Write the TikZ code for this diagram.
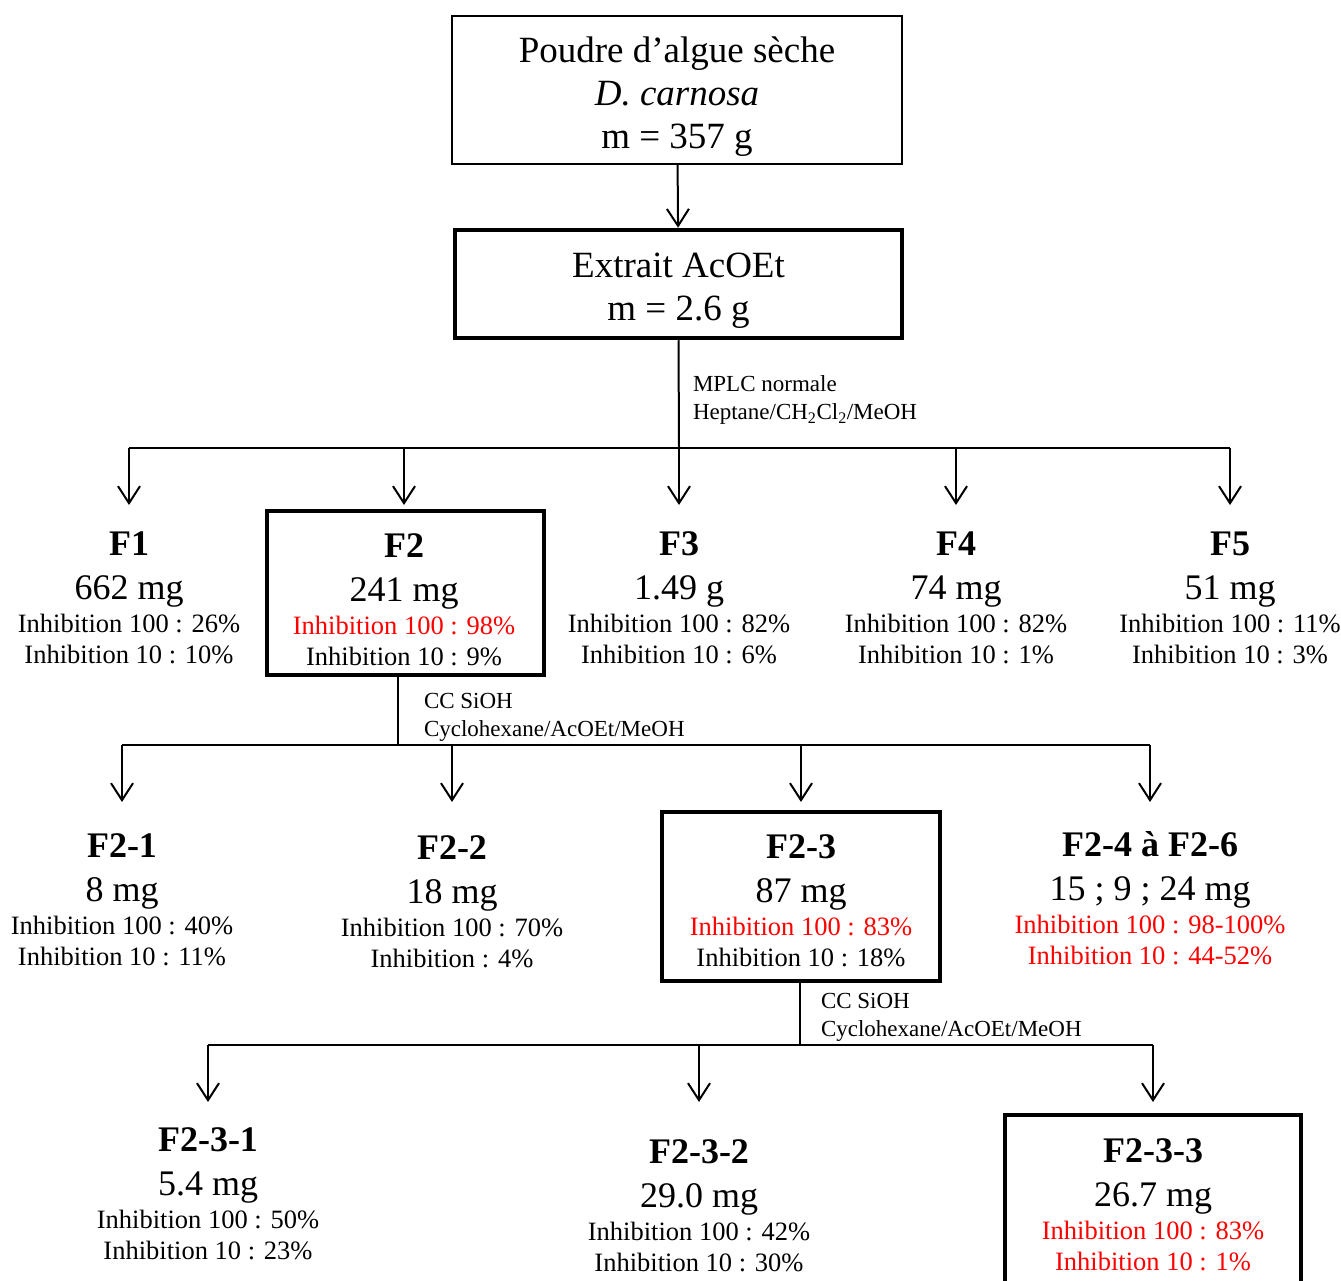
\documentclass[tikz,border=0pt]{standalone}
\usepackage{fontspec}
\setmainfont{Liberation Serif}
\usetikzlibrary{arrows.meta}
\definecolor{inhred}{RGB}{255,0,0}

\begin{document}
\begin{tikzpicture}[x=1pt, y=-1pt,
  >={Straight Barb[length=17pt, width=22pt]},
  line width=2pt,
  bx/.style={draw, line width=2pt, align=center, inner sep=0pt,
    font=\fontsize{37}{43}\selectfont},
  hbx/.style={draw, line width=4.5pt, inner sep=0pt},
  ttl/.style={anchor=base, inner sep=0pt, font=\fontsize{36}{43}\selectfont\bfseries},
  ms/.style={anchor=base, inner sep=0pt, font=\fontsize{36}{43}\selectfont},
  inh/.style={anchor=base, inner sep=0pt, font=\fontsize{26.5}{31}\selectfont},
  lbl/.style={anchor=west, align=left, inner sep=0pt,
    font=\fontsize{23}{28}\selectfont},
]
\clip (0,0) rectangle (1341,1281);
\node[bx, minimum width=450, minimum height=148] (src) at (677,90)
  {\rule{0pt}{38pt}Poudre d’algue sèche\\\textit{D. carnosa}\\m = 357 g};
\node[bx, line width=4.5pt, minimum width=447, minimum height=108] (ext)
  at (678.5,284) {\rule{0pt}{37pt}Extrait AcOEt\\m = 2.6 g};
\draw[->] (src) -- (ext);
\node[hbx, minimum width=277, minimum height=164] (f2box) at (405.5,593) {};
\node[hbx, minimum width=278, minimum height=169] (f23box) at (801,896.5) {};
\node[hbx, minimum width=296, minimum height=196] (f233box) at (1153,1213) {};
\foreach \n/\x/\y/\vT/\vM/\cA/\vA/\cB/\vB in {
    f1/129/555/F1/662 mg/black/Inhibition 100 : 26\%/black/Inhibition 10 : 10\%,
    f2/404/557/F2/241 mg/inhred/Inhibition 100 : 98\%/black/Inhibition 10 : 9\%,
    f3/679/555/F3/1.49 g/black/Inhibition 100 : 82\%/black/Inhibition 10 : 6\%,
    f4/956/555/F4/74 mg/black/Inhibition 100 : 82\%/black/Inhibition 10 : 1\%,
    f5/1230/555/F5/51 mg/black/Inhibition 100 : 11\%/black/Inhibition 10 : 3\%,
    f21/122/857/F2-1/8 mg/black/Inhibition 100 : 40\%/black/Inhibition 10 : 11\%,
    f22/452/859/F2-2/18 mg/black/Inhibition 100 : 70\%/black/Inhibition : 4\%,
    f23/801/858/F2-3/87 mg/inhred/Inhibition 100 : 83\%/black/Inhibition 10 : 18\%,
    f24/1150/856/F2-4 à F2-6/15 ; 9 ; 24 mg/inhred/Inhibition 100 : 98-100\%/inhred/Inhibition 10 : 44-52\%,
    f231/208/1151/F2-3-1/5.4 mg/black/Inhibition 100 : 50\%/black/Inhibition 10 : 23\%,
    f232/699/1163/F2-3-2/29.0 mg/black/Inhibition 100 : 42\%/black/Inhibition 10 : 30\%,
    f233/1153/1162/F2-3-3/26.7 mg/inhred/Inhibition 100 : 83\%/inhred/Inhibition 10 : 1\%} {
  \node[ttl] (\n) at (\x,\y) {\vT};
  \node[ms] (\n-m) at (\x,\y+44) {\vM};
  \node[inh, text=\cA] (\n-a) at (\x,\y+77) {\vA};
  \node[inh, text=\cB] (\n-b) at (\x,\y+108) {\vB};
}
\coordinate (bus1) at (679,448);
\coordinate (tip1) at (0,505);
\draw (ext.south) -- (bus1);
\node[lbl] (sep1) at (692,400)
  {MPLC normale\\Heptane/CH\textsubscript{2}Cl\textsubscript{2}/MeOH};
\draw (f1 |- bus1) -- (f5 |- bus1);
\foreach \n in {f1,f2,f3,f4,f5}
  \draw[->] (\n |- bus1) -- (\n |- tip1);
\coordinate (bus2) at (398,745);
\coordinate (tip2) at (0,802);
\draw (f2box.south -| bus2) -- (bus2);
\node[lbl] (sep2) at (423,717) {CC SiOH\\Cyclohexane/AcOEt/MeOH};
\draw (f21 |- bus2) -- (f24 |- bus2);
\foreach \n in {f21,f22,f23,f24}
  \draw[->] (\n |- bus2) -- (\n |- tip2);
\coordinate (bus3) at (800,1045);
\coordinate (tip3) at (0,1102);
\draw (f23box.south -| bus3) -- (bus3);
\node[lbl] (sep3) at (820,1017) {CC SiOH\\Cyclohexane/AcOEt/MeOH};
\draw (f231 |- bus3) -- (f233 |- bus3);
\foreach \n in {f231,f232,f233}
  \draw[->] (\n |- bus3) -- (\n |- tip3);
\end{tikzpicture}
\end{document}
